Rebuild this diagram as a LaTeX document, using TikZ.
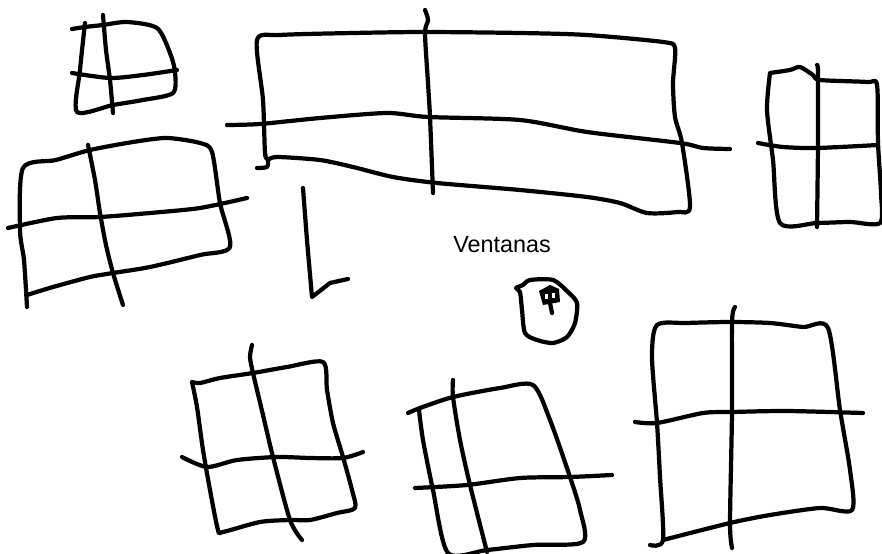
\documentclass[tikz,border=0pt]{standalone}
\usepackage{fontspec}
\setsansfont{Liberation Sans}
\begin{document}
\begin{tikzpicture}[x=0.02cm, y=-0.02cm, pen/.style={line width=2.4pt, line cap=round, line join=round}, label text/.style={font=\sffamily\fontsize{13.3}{16}\selectfont, inner sep=0pt}]

  \useasboundingbox (0,0) rectangle (882,554);

  % small window, top left
  \draw[pen] plot[smooth, tension=0.45] coordinates {(72,29) (85,27) (103,25) (127,22) (157,28) (170,53) (175,72) (173,93) (143,100) (113,105) (77,112) (80,70) (85,23)};
  \draw[pen] plot[smooth, tension=0.45] coordinates {(72,73) (110,78) (143,75) (177,70)};
  \draw[pen] plot[smooth, tension=0.45] coordinates {(103,15) (106,50) (110,80) (113,113)};

  % window, left
  \draw[pen] plot[smooth, tension=0.45] coordinates {(27,307) (24,260) (20,230) (23,168) (56,160) (90,150) (133,142) (167,138) (200,143) (212,152) (220,203) (230,247) (200,255) (150,267) (113,273) (90,277) (53,287) (27,295)};
  \draw[pen] plot[smooth, tension=0.45] coordinates {(8,228) (57,218) (100,217) (150,213) (200,208) (247,198)};
  \draw[pen] plot[smooth, tension=0.45] coordinates {(88,145) (95,180) (100,213) (106,245) (113,273) (123,305)};

  % wide window, top
  \draw[pen] plot[smooth, tension=0.45] coordinates {(257,168) (267,167) (268,160) (265,153) (263,100) (257,40) (280,35) (353,33) (425,32) (520,33) (587,35) (663,42) (675,48) (673,83) (675,117) (682,143) (690,207) (677,212) (647,213) (620,203) (587,197) (520,190) (437,183) (393,177) (353,167) (320,160) (277,157) (268,160)};
  \draw[pen] plot[smooth, tension=0.45] coordinates {(227,125) (260,124) (320,118) (387,113) (428,117) (520,120) (587,132) (680,143) (703,148) (730,149)};
  \draw[pen] plot[smooth, tension=0.45] coordinates {(425,10) (428,20) (425,33) (428,83) (430,117) (433,193)};

  % window, right
  \draw[pen] plot[smooth, tension=0.45] coordinates {(770,73) (790,70) (800,67) (813,75) (820,80) (867,82) (877,85) (878,143) (881,193) (880,223) (850,222) (817,223) (780,223) (773,160) (767,110) (770,73)};
  \draw[pen] plot[smooth, tension=0.45] coordinates {(758,143) (783,147) (817,148) (878,145)};
  \draw[pen] plot[smooth, tension=0.45] coordinates {(817,65) (818,73) (818,143) (817,227)};

  % corner stroke
  \draw[pen] plot[smooth, tension=0.45] coordinates {(303,188) (307,240) (312,297)} -- (330,283) -- (348,279);

  % small blob
  \draw[pen] plot[smooth cycle, tension=0.45] coordinates {(516,288) (523,285) (530,280) (553,280) (568,292) (577,303) (575,323) (567,337) (553,343) (537,340) (525,333) (522,310) (520,292)};
  \fill (539,291) -- (550,285) -- (559,289) -- (560,302) -- (543,305) -- cycle;
  \draw[pen] (549,298) -- (552,313);
  \fill[white] (545,294) rectangle (548,299);
  \fill[white] (552,293) rectangle (555,298);

  % window, bottom left
  \draw[pen] plot[smooth, tension=0.45] coordinates {(192,382) (200,383) (220,378) (253,373) (287,367) (323,362) (327,390) (333,423) (343,457) (352,490) (355,508) (337,513) (310,520) (290,520) (260,522) (223,532) (218,530) (210,490) (203,450) (197,407) (192,382)};
  \draw[pen] plot[smooth, tension=0.45] coordinates {(182,457) (207,467) (237,460) (277,457) (310,458) (343,458) (363,452)};
  \draw[pen] plot[smooth, tension=0.45] coordinates {(252,345) (250,357) (253,373) (263,415) (273,457) (290,520) (302,540)};

  % window, bottom middle
  \draw[pen] plot[smooth, tension=0.45] coordinates {(408,413) (420,408) (453,397) (500,388) (533,385) (550,420) (570,477) (580,510) (583,542) (533,545) (487,550) (448,553) (433,490) (423,440) (419,410)};
  \draw[pen] plot[smooth, tension=0.45] coordinates {(415,488) (467,485) (520,478) (570,477) (612,475)};
  \draw[pen] plot[smooth, tension=0.45] coordinates {(453,380) (453,397) (460,440) (470,485) (487,552)};

  % window, bottom right
  \draw[pen] plot[smooth, tension=0.45] coordinates {(650,545) (663,540) (660,477) (657,423) (652,357) (657,325) (687,323) (730,322) (770,323) (803,327) (828,328) (840,410) (850,470) (852,510) (820,508) (770,515) (730,523) (663,540)};
  \draw[pen] plot[smooth, tension=0.45] coordinates {(635,422) (657,423) (703,413) (732,412) (787,411) (863,413)};
  \draw[pen] plot[smooth, tension=0.45] coordinates {(735,307) (732,322) (732,412) (730,523) (732,548)};

  \node[label text] (title) at (502,245) {Ventanas};
\end{tikzpicture}
\end{document}
